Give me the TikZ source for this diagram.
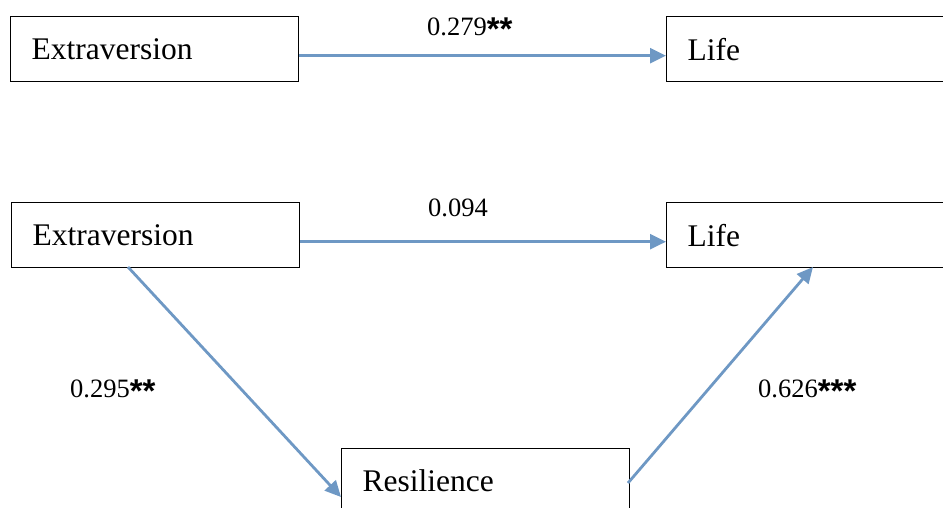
\documentclass[tikz,border=0pt]{standalone}
\usepackage{fontspec}
\setmainfont{Liberation Serif}
\newfontfamily\astfont{Liberation Sans}
\usetikzlibrary{arrows.meta}
\definecolor{linkblue}{RGB}{110,152,196}
\newcommand{\st}[1]{\raisebox{-5.5pt}{\astfont\bfseries\fontsize{33}{33}\selectfont #1}}
\tikzset{
  box/.style={draw=black, line width=1.4pt, minimum width=288pt, minimum height=65pt,
    text width=246pt, inner xsep=21pt, inner ysep=0pt, align=left, anchor=north west,
    font=\fontsize{31.5}{36}\selectfont},
  coef/.style={anchor=base west, inner sep=0pt, font=\fontsize{26.5}{30}\selectfont},
  link/.style={draw=linkblue, line width=2.8pt, -{Triangle[length=16pt,width=15pt]}}
}
\begin{document}
\begin{tikzpicture}[x=1pt,y=-1pt]
\useasboundingbox (0,0) rectangle (943,507);
\clip (0,0) rectangle (943,507);
% top model
\node[box] (e1) at (10,16) {Extraversion};
\node[box] (l1) at (666,16) {Life};
\draw[link] ([yshift=-6.5pt]e1.east) -- ([yshift=-6.5pt]l1.west);
\node[coef] (c1) at (427,35) {0.279\st{**}};
% bottom model
\node[box] (e2) at (11,202) {Extraversion};
\node[box] (l2) at (666,202) {Life};
\node[box] (r2) at (341,448) {Resilience};
\draw[link] ([yshift=-6.5pt]e2.east) -- ([yshift=-6.5pt]l2.west);
\coordinate (e2b) at (128,267);
\coordinate (r2l) at (341,497);
\coordinate (r2r) at (628,483);
\coordinate (l2b) at (813,267);
\draw[link] (e2b) -- (r2l);
\draw[link] (r2r) -- (l2b);
\node[coef] (c2) at (428,216) {0.094};
\node[coef] (c3) at (70,397) {0.295\st{**}};
\node[coef] (c4) at (758,397) {0.626\st{***}};
\end{tikzpicture}
\end{document}
